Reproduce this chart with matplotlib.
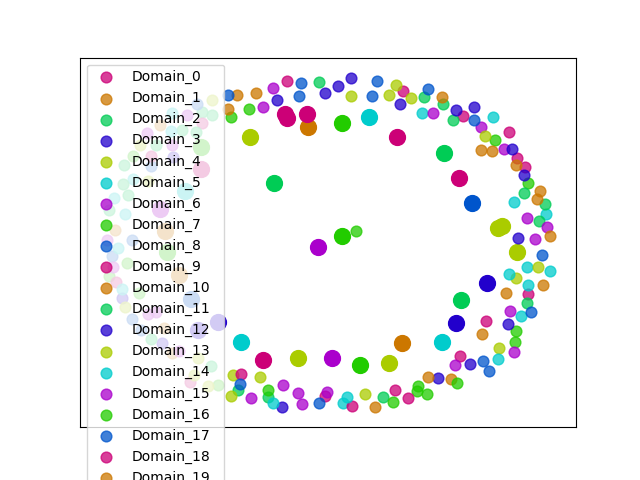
import matplotlib
matplotlib.use("Agg")
import matplotlib.pyplot as plt

# 9 base colours, cycled over the domains
palette = ["#cc0077", "#cc7700", "#00cc55", "#2200cc", "#aacc00",
           "#00cccc", "#aa00cc", "#22cc00", "#0055cc"]
n_domains = 108

# outer ring samples (x, y in embedding units, domain id)
outer_x = [
    # colour 0
    287, 403, 463, 509, 517, 525, 528, 486, 460, 395, 408, 241, 325, 352, 202, 151, 116, 190,
    # colour 1
    237, 256, 228, 442, 481, 492, 516, 540, 537, 550, 543, 506, 482, 428, 451, 375, 160, 115, 164, 172,
    # colour 2
    319, 424, 443, 453, 524, 545, 539, 527, 238, 268, 383, 212, 202, 182, 196, 156, 124, 123, 128, 109, 151, 211,
    # colour 3
    277, 325, 338, 351, 400, 456, 474, 512, 524, 518, 508, 470, 438, 282, 173, 122, 162,
    # colour 4
    351, 396, 389, 411, 485, 538, 516, 499, 233, 231, 260, 365, 212, 140, 148, 125, 198, 194, 208,
    # colour 5
    422, 493, 514, 546, 527, 550, 509, 528, 521, 498, 273, 347, 343, 172, 171, 133, 114, 125, 118, 122,
    # colour 6
    273, 263, 433, 481, 504, 527, 547, 535, 510, 514, 455, 251, 283, 298, 302, 327, 187, 147, 172, 107, 113, 148, 156, 179,
    # colour 7
    231, 249, 495, 528, 516, 515, 457, 418, 417, 427, 393, 268, 356, 133, 127, 109, 139, 218,
    # colour 8
    228, 301, 299, 377, 372, 428, 474, 542, 531, 483, 489, 240, 319, 197, 151, 132, 112, 132, 141, 187, 182,
]
outer_y = [
    81, 91, 116, 132, 158, 167, 294, 321, 356, 390, 398, 374, 396, 406, 123, 156, 282, 382,
    95, 93, 109, 97, 150, 151, 165, 191, 199, 236, 285, 293, 334, 377, 379, 407, 125, 230, 328, 353,
    82, 97, 104, 120, 193, 204, 221, 303, 390, 397, 397, 115, 112, 130, 132, 145, 165, 184, 195, 210, 339, 366,
    100, 93, 86, 78, 104, 110, 107, 149, 175, 238, 324, 364, 378, 407, 157, 298, 343,
    96, 85, 95, 98, 136, 267, 278, 348, 375, 396, 377, 394, 100, 145, 181, 307, 358, 375, 386,
    113, 117, 202, 214, 267, 271, 274, 285, 316, 359, 403, 397, 403, 113, 131, 179, 198, 214, 248, 289,
    88, 107, 113, 127, 149, 218, 227, 239, 311, 352, 365, 398, 385, 393, 404, 392, 115, 133, 145, 240, 267, 314, 312, 351,
    117, 109, 140, 183, 331, 342, 383, 386, 391, 394, 402, 390, 231, 156, 263, 276, 293, 385,
    95, 83, 96, 81, 96, 89, 120, 255, 312, 361, 371, 384, 403, 104, 166, 240, 256, 319, 330, 343, 366,
]
outer_domain = [
    0, 9, 18, 27, 36, 45, 54, 63, 72, 81, 90, 99, 0, 9, 18, 27, 36, 45,
    1, 10, 19, 28, 37, 46, 55, 64, 73, 82, 91, 100, 1, 10, 19, 28, 37, 46, 55, 64,
    2, 11, 20, 29, 38, 47, 56, 65, 74, 83, 92, 101, 2, 11, 20, 29, 38, 47, 56, 65, 74, 83,
    3, 12, 21, 30, 39, 48, 57, 66, 75, 84, 93, 102, 3, 12, 21, 30, 39,
    4, 13, 22, 31, 40, 49, 58, 67, 76, 85, 94, 103, 4, 13, 22, 31, 40, 49, 58,
    5, 14, 23, 32, 41, 50, 59, 68, 77, 86, 95, 104, 5, 14, 23, 32, 41, 50, 59, 68,
    6, 15, 24, 33, 42, 51, 60, 69, 78, 87, 96, 105, 6, 15, 24, 33, 42, 51, 60, 69, 78, 87, 96, 105,
    7, 16, 25, 34, 43, 52, 61, 70, 79, 88, 97, 106, 7, 16, 25, 34, 43, 52,
    8, 17, 26, 35, 44, 53, 62, 71, 80, 89, 98, 107, 8, 17, 26, 35, 44, 53, 62,
]

# inner ring / centre samples
inner_x = [285, 287, 307, 397, 459, 263, 201,
           308, 402, 165, 179,
           444, 274, 461,
           487, 456, 218, 198,
           250, 498, 502, 517, 298, 389,
           369, 442, 241, 185,
           318, 332, 160,
           342, 342, 360, 201, 167,
           472, 191]
inner_y = [114, 118, 114, 137, 178, 360, 169,
           127, 343, 231, 275,
           153, 183, 300,
           283, 323, 322, 330,
           137, 228, 226, 252, 358, 363,
           117, 342, 342, 191,
           247, 358, 209,
           123, 236, 365, 147, 252,
           203, 299]
inner_domain = [0, 0, 9, 18, 0, 9, 18,
                1, 10, 19, 1,
                2, 11, 2,
                3, 12, 3, 12,
                4, 13, 13, 4, 13, 4,
                5, 14, 5, 14,
                6, 15, 6,
                7, 16, 7, 16, 7,
                8, 17]

fig, ax = plt.subplots(figsize=(6.4, 4.8), dpi=100)

for d in range(n_domains):
    color = palette[d % len(palette)]
    ox = [x for x, k in zip(outer_x, outer_domain) if k == d]
    oy = [y for y, k in zip(outer_y, outer_domain) if k == d]
    ax.scatter(ox, oy, s=60, color=color, alpha=0.75, label=f"Domain_{d}")
    ix = [x for x, k in zip(inner_x, inner_domain) if k == d]
    iy = [y for y, k in zip(inner_y, inner_domain) if k == d]
    if ix:
        ax.scatter(ix, iy, s=130, color=color, alpha=1.0)

ax.set_xlim(80, 576)
ax.set_ylim(427, 58)
ax.set_xticks([])
ax.set_yticks([])
ax.legend(loc="upper left")

fig.savefig("out.png")
